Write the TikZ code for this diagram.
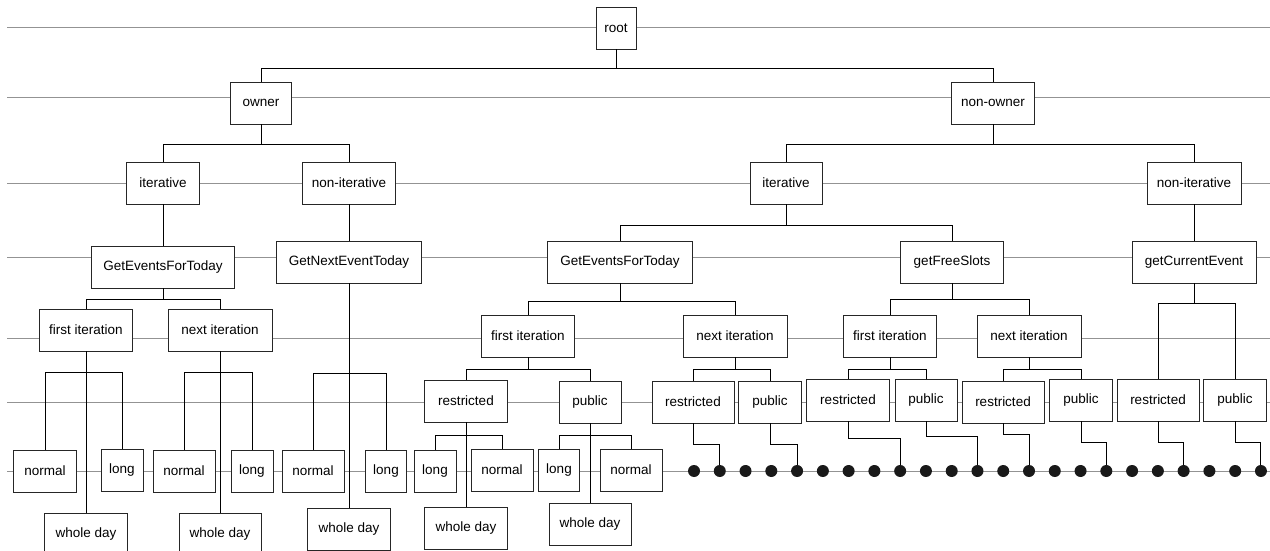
\documentclass[tikz,border=0pt]{standalone}
\usepackage{fontspec}
\setmainfont{Liberation Sans}
\usetikzlibrary{positioning}

\tikzset{
    box/.style={draw=black!85, line width=0.8, fill=white, minimum height=42, inner sep=0pt, font=\fontsize{13.5}{16}\selectfont},
    wire/.style={draw, line width=1},
    levelline/.style={gray!85, line width=0.7},
    dot/.style={circle, fill=black!90, inner sep=0pt, minimum size=12},
}

\begin{document}
\begin{tikzpicture}[x=1pt, y=-1pt]
    \def\fork#1#2#3#4{
    \draw[wire] (#1.south) -- ++(0,#2) coordinate (bus);
    \draw[wire] (#3.north) |- (bus) -| (#4.north);
    }
    \def\todot#1#2#3{
    \draw[wire] (#1.south) -- ++(0,#2) -| (#3);
    }

    \useasboundingbox (0,0) rectangle (1270,551);

    % level lines
    \foreach \y in {27,97,183,257,338,402,471}
        \draw[levelline] (7,\y) -- (1270,\y);

    \foreach \i in {0,...,22}
        \node[dot] (d\i) at ({694+25.77*\i},471) {};

    \node[box, minimum width=40] (root) at (616,28) {root};

    \node[box, minimum width=61] (owner) at (261,103) {owner};
    \node[box, minimum width=83] (nonowner) at (993,103) {non-owner};

    \node[box, minimum width=73] (oiter) at (163,183) {iterative};
    \node[box, minimum width=93] (ononiter) at (349,183) {non-iterative};
    \node[box, minimum width=72] (niter) at (786,183) {iterative};
    \node[box, minimum width=94] (nnoniter) at (1194,183) {non-iterative};

    \node[box, minimum width=143] (ogetev) at (163,267) {GetEventsForToday};
    \node[box, minimum width=145] (ogetnext) at (349,262) {GetNextEventToday};
    \node[box, minimum width=145] (ngetev) at (620,262) {GetEventsForToday};
    \node[box, minimum width=103] (nfree) at (952,262) {getFreeSlots};
    \node[box, minimum width=124] (ncurr) at (1194,262) {getCurrentEvent};

    \node[box, minimum width=93] (ofirst) at (86,330) {first iteration};
    \node[box, minimum width=104] (onext) at (220,330) {next iteration};
    \node[box, minimum width=93] (nfirst) at (528,336) {first iteration};
    \node[box, minimum width=104] (nnext) at (735,336) {next iteration};
    \node[box, minimum width=93] (ffirst) at (890,336) {first iteration};
    \node[box, minimum width=104] (fnext) at (1029,336) {next iteration};

    \node[box, minimum width=83] (rone) at (466,401) {restricted};
    \node[box, minimum width=62] (pone) at (590,402) {public};
    \node[box, minimum width=82] (rtwo) at (693,402) {restricted};
    \node[box, minimum width=63] (ptwo) at (770,402) {public};
    \node[box, minimum width=83] (rthree) at (848,400) {restricted};
    \node[box, minimum width=62] (pthree) at (926,400) {public};
    \node[box, minimum width=82] (rfour) at (1003,402) {restricted};
    \node[box, minimum width=63] (pfour) at (1081,400) {public};
    \node[box, minimum width=82] (rfive) at (1158,400) {restricted};
    \node[box, minimum width=63] (pfive) at (1235,400) {public};

    \node[box, minimum width=63] (ofnormal) at (45,471) {normal};
    \node[box, minimum width=42] (oflong) at (122,470) {long};
    \node[box, minimum width=62] (onnormal) at (184,471) {normal};
    \node[box, minimum width=42] (onlong) at (252,471) {long};
    \node[box, minimum width=62] (gnnormal) at (313,471) {normal};
    \node[box, minimum width=41] (gnlong) at (386,471) {long};
    \node[box, minimum width=42] (rlong) at (435,471) {long};
    \node[box, minimum width=62] (rnormal) at (502,470) {normal};
    \node[box, minimum width=41] (plong) at (559,470) {long};
    \node[box, minimum width=62] (pnormal) at (631,470) {normal};

    \node[box, minimum width=83] (ofwhole) at (86,534) {whole day};
    \node[box, minimum width=82] (onwhole) at (220,534) {whole day};
    \node[box, minimum width=83] (gnwhole) at (349,529) {whole day};
    \node[box, minimum width=83] (rwhole) at (466,528) {whole day};
    \node[box, minimum width=82] (pwhole) at (590,524) {whole day};

    \fork{root}{19}{owner}{nonowner};
    \fork{owner}{20}{oiter}{ononiter};
    \fork{nonowner}{20}{niter}{nnoniter};

    \draw[wire] (oiter) -- (ogetev);
    \draw[wire] (ononiter) -- (ogetnext);
    \draw[wire] (nnoniter) -- (ncurr);
    \fork{niter}{21}{ngetev}{nfree};

    \fork{ogetev}{11}{ofirst}{onext};
    \fork{ngetev}{18}{nfirst}{nnext};
    \fork{nfree}{16}{ffirst}{fnext};
    \fork{ncurr}{20}{rfive}{pfive};

    \fork{ofirst}{21}{ofnormal}{oflong};
    \fork{onext}{21}{onnormal}{onlong};
    \fork{ogetnext}{90}{gnnormal}{gnlong};
    \fork{nfirst}{12}{rone}{pone};
    \fork{nnext}{12}{rtwo}{ptwo};
    \fork{ffirst}{12}{rthree}{pthree};
    \fork{fnext}{12}{rfour}{pfour};
    \fork{rone}{13}{rlong}{rnormal};
    \fork{pone}{12}{plong}{pnormal};

    \draw[wire] (ofirst) -- (ofwhole);
    \draw[wire] (onext) -- (onwhole);
    \draw[wire] (ogetnext) -- (gnwhole);
    \draw[wire] (rone) -- (rwhole);
    \draw[wire] (pone) -- (pwhole);

    \todot{rtwo}{21}{d1};
    \todot{ptwo}{21}{d4};
    \todot{rthree}{17}{d8};
    \todot{pthree}{15}{d11};
    \todot{rfour}{11}{d13};
    \todot{pfour}{21}{d16};
    \todot{rfive}{21}{d19};
    \todot{pfive}{21}{d22};

\end{tikzpicture}
\end{document}
